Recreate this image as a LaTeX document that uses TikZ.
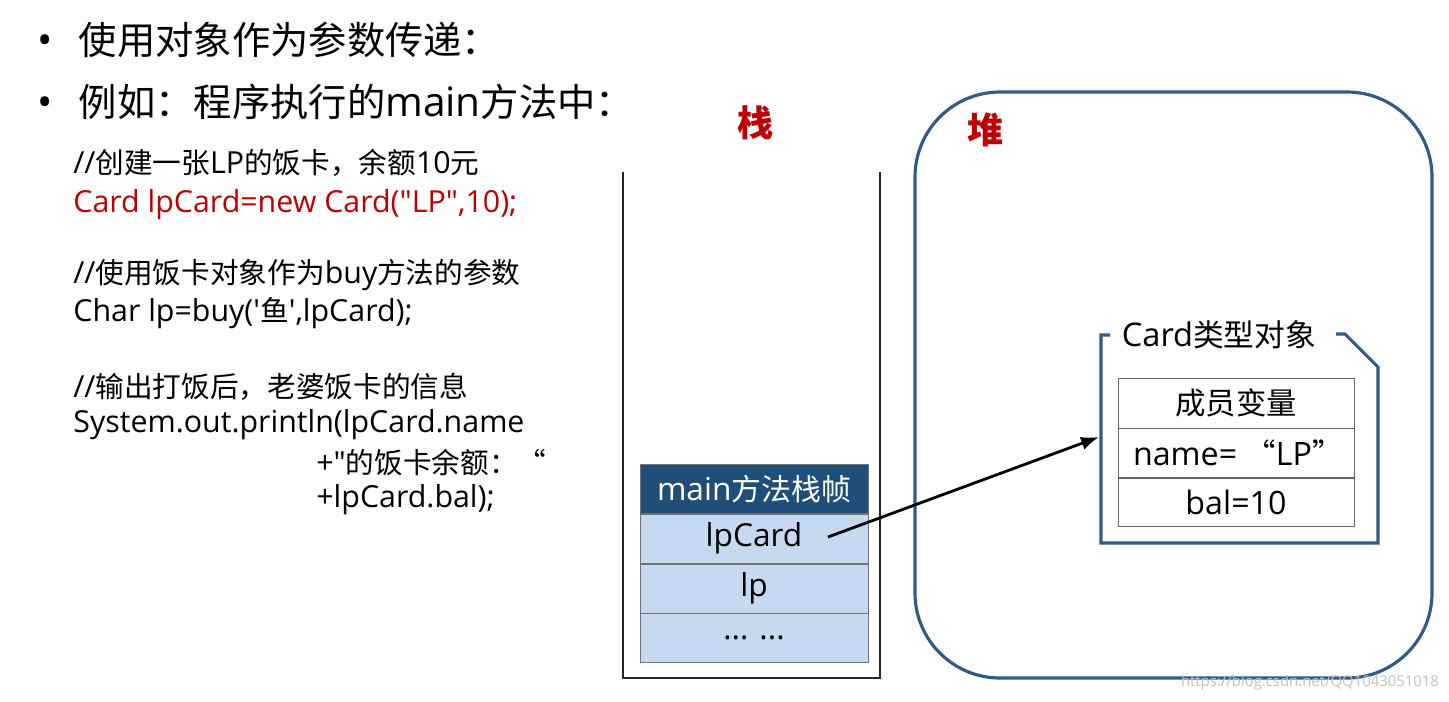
\documentclass[tikz,border=0pt]{standalone}
\usepackage{fontspec}
\setmainfont{Open Sans}[Ligatures=TeXOff,Scale=1.06]
\newfontfamily\latinfont{Open Sans}[Ligatures=TeXOff,Scale=1.06]
\newfontfamily\cjkfont{Noto Sans CJK SC}[Ligatures=TeXOff]
% switch to the CJK family for Chinese characters and full-width marks
\XeTeXinterchartokenstate=1
\newXeTeXintercharclass\cjkclass
\count255="4E00
\loop\XeTeXcharclass\count255=\cjkclass\advance\count255 by 1 \ifnum\count255<"A000 \repeat
\count255="FF00
\loop\XeTeXcharclass\count255=\cjkclass\advance\count255 by 1 \ifnum\count255<"FF5F \repeat
\XeTeXcharclass"201C=\cjkclass
\XeTeXcharclass"201D=\cjkclass
\XeTeXinterchartoks 0 \cjkclass = {\cjkfont}
\XeTeXinterchartoks 4095 \cjkclass = {\cjkfont}
\XeTeXinterchartoks \cjkclass 0 = {\latinfont}
\usetikzlibrary{arrows.meta,positioning}
\definecolor{slidered}{HTML}{C00000}
\definecolor{framedark}{HTML}{1F4E79}
\definecolor{heapline}{HTML}{2E5C86}
\definecolor{cellblue}{HTML}{C6D9F1}
\begin{document}
\begin{tikzpicture}[x=0.02cm,y=-0.02cm,>=Latex,
  bullet/.style={anchor=west,inner sep=0pt,font=\fontsize{21.8}{25}\selectfont},
  codeline/.style={anchor=west,inner sep=0pt,font=\fontsize{16.3}{19}\selectfont},
  area/.style={text=slidered,font=\bfseries\fontsize{20.5}{24}\selectfont},
  stackcell/.style={draw=black!55,fill=cellblue,minimum width=4.56cm,minimum height=0.98cm,inner sep=0pt,font=\fontsize{17}{20}\selectfont},
  membercell/.style={draw=black!60,fill=white,minimum width=4.72cm,inner sep=0pt,font=\fontsize{17.3}{20}\selectfont}]
\useasboundingbox (0,0) rectangle (1449,701);
% left side: bullets and code
\node[bullet] (b1) at (37,40) {•\hspace{15pt}使用对象作为参数传递：};
\node[bullet] (b2) at (37,102) {•\hspace{15pt}例如：程序执行的main方法中：};
\node[codeline] (c1) at (73,163) {//创建一张LP的饭卡，余额10元};
\node[codeline,text=slidered] (c2) at (73,205) {Card lpCard=new Card("LP",10);};
\node[codeline] (c3) at (73,275) {//使用饭卡对象作为buy方法的参数};
\node[codeline] (c4) at (73,313) {Char lp=buy('鱼',lpCard);};
\node[codeline] (c5) at (73,387) {//输出打饭后，老婆饭卡的信息};
\node[codeline] (c6) at (73,425) {System.out.println(lpCard.name};
\node[codeline] (c7) at (316,463) {+"的饭卡余额：“};
\node[codeline] (c8) at (316,500) {+lpCard.bal);};
% stack
\node[area] (stacklbl) at (755,123) {栈};
\draw[line width=1.6pt,black!85] (623,172) -- (623,678) -- (880,678) -- (880,172);
\node[stackcell,fill=framedark,text=white] (frame) at (754,489) {main方法栈帧};
\node[stackcell,below=0pt of frame] (ref) {lpCard};
\node[stackcell,below=0pt of ref] (lp) {lp};
\node[stackcell,below=0pt of lp] (more) {... ...};
% heap
\draw[heapline,line width=1.8pt,rounded corners=1.7cm] (915,92) rectangle (1432,678);
\node[area] (heaplbl) at (985,130) {堆};
% card object
\node[font=\fontsize{17.5}{20}\selectfont] (objlbl) at (1219,335) {Card类型对象};
\draw[heapline,line width=1.8pt] (1110,335) -- (1101,335) -- (1101,543) -- (1378,543) -- (1378,367) -- (1345,334) -- (1336,334);
\node[membercell,minimum height=1.0cm] (mhead) at (1236,403) {成员变量};
\node[membercell,minimum height=0.98cm,below=0pt of mhead] (mname) {};
\node[anchor=west,inner sep=0pt,font=\fontsize{17.3}{20}\selectfont] (namelbl) at ([xshift=0.3cm]mname.west) {name= “LP”};
\node[membercell,minimum height=0.96cm,below=0pt of mname] (mbal) {bal=10};
\coordinate (refend) at (828,537);
\coordinate (objin) at (1099,437);
\draw[->,line width=1.6pt] (refend) -- (objin);
% watermark
\node[text=black!25,font=\fontsize{8}{10}\selectfont] (mark) at (1310,683) {https://blog.csdn.net/QQ1043051018};
\end{tikzpicture}
\end{document}
